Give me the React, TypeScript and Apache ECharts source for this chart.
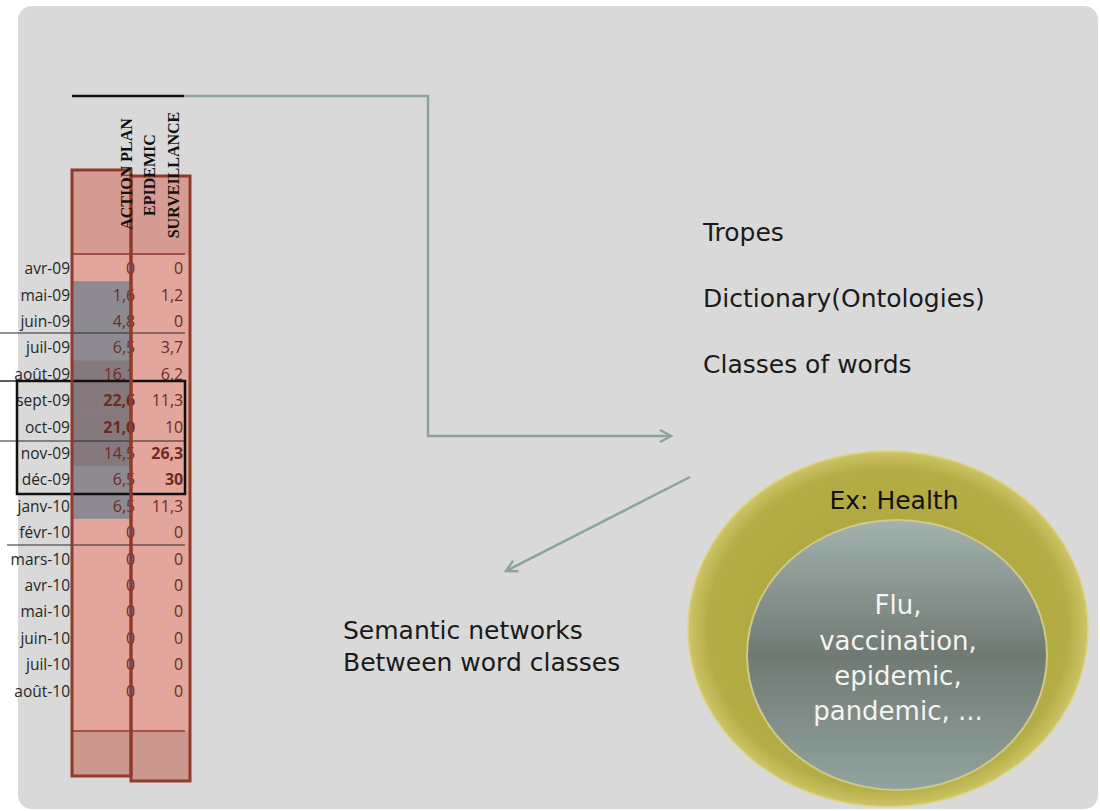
import React, { useEffect, useRef } from 'react';
import * as echarts from 'echarts';

const months = ['avr-09', 'mai-09', 'juin-09', 'juil-09', 'août-09', 'sept-09', 'oct-09', 'nov-09', 'déc-09', 'janv-10', 'févr-10', 'mars-10', 'avr-10', 'mai-10', 'juin-10', 'juil-10', 'août-10'];
const rowCategories = [...months, ''];
const columns = ['ACTION PLAN', 'EPIDEMIC\nSURVEILLANCE'];
const actionPlan = [0, 1.6, 4.8, 6.5, 16.1, 22.6, 21.0, 14.5, 6.5, 6.5, 0, 0, 0, 0, 0, 0, 0];
const epidemicSurveillance = [0, 1.2, 0, 3.7, 6.2, 11.3, 10, 26.3, 30, 11.3, 0, 0, 0, 0, 0, 0, 0];
const rightTopics = ['Tropes', 'Dictionary(Ontologies)', 'Classes of words'];
const networkText = ['Semantic networks', 'Between word classes'];
const circleTitle = 'Ex: Health';
const circleWords = ['Flu,', 'vaccination,', 'epidemic,', 'pandemic, ...'];

const fmtAction = (v: number) => (v === 0 ? '0' : v.toFixed(1).replace('.', ','));
const fmtSurv = (v: number) => String(v).replace('.', ',');

const RED = '#8f3a2b';
const CONNECT = '#8fa39e';

function chevron(tipX: number, tipY: number, fromX: number, fromY: number, len = 11, half = 6) {
  const dx = tipX - fromX;
  const dy = tipY - fromY;
  const L = Math.hypot(dx, dy);
  const ux = dx / L;
  const uy = dy / L;
  const bx = tipX - ux * len;
  const by = tipY - uy * len;
  return [
    [bx - uy * half, by + ux * half],
    [tipX, tipY],
    [bx + uy * half, by - ux * half],
  ];
}

export default function App() {
  const ref = useRef<HTMLDivElement>(null);
  useEffect(() => {
    if (!ref.current) return;
    const chart = echarts.init(ref.current, undefined, { renderer: 'svg' });

    const labelRich = {
      n: { fontFamily: 'Open Sans', fontSize: 16, color: '#6e2a22' },
      b: { fontFamily: 'Open Sans', fontSize: 16, color: '#6e2a22', fontWeight: 'bold' },
    };
    const mkLabel = (fmt: (v: number) => string) => (p: any) => {
      const v = p.value[2];
      return v >= 20 ? `{b|${fmt(v)}}` : `{n|${fmt(v)}}`;
    };

    const topicY = [232, 298, 364];
    const wordY = [605, 641, 676, 711];

    const graphics: any[] = [
      { type: 'rect', z: 0, shape: { x: 18, y: 6, width: 1080, height: 803, r: 14 }, style: { fill: '#d9d9d9' } },
      { type: 'rect', z: 1, shape: { x: 72, y: 170, width: 59, height: 85 }, style: { fill: '#d69c93' } },
      { type: 'rect', z: 1, shape: { x: 131, y: 176, width: 59, height: 79 }, style: { fill: '#d69c93' } },
      { type: 'rect', z: 1, shape: { x: 72, y: 255, width: 59, height: 476 }, style: { fill: '#e2a69d' } },
      { type: 'rect', z: 1, shape: { x: 131, y: 255, width: 59, height: 476 }, style: { fill: '#e2a69d' } },
      { type: 'rect', z: 1, shape: { x: 72, y: 731, width: 59, height: 45 }, style: { fill: '#cc978e' } },
      { type: 'rect', z: 1, shape: { x: 131, y: 731, width: 59, height: 50 }, style: { fill: '#cc978e' } },
      { type: 'line', z: 20, shape: { x1: 72, y1: 254, x2: 185, y2: 254 }, style: { stroke: RED, lineWidth: 1.5 } },
      { type: 'line', z: 20, shape: { x1: 72, y1: 731, x2: 185, y2: 731 }, style: { stroke: RED, lineWidth: 1.5 } },
      { type: 'line', z: 20, shape: { x1: 0, y1: 333, x2: 185, y2: 333 }, style: { stroke: '#2a2a2a', lineWidth: 1.2 } },
      { type: 'line', z: 20, shape: { x1: 0, y1: 441, x2: 185, y2: 441 }, style: { stroke: '#2a2a2a', lineWidth: 1.2 } },
      { type: 'line', z: 20, shape: { x1: 7, y1: 545, x2: 185, y2: 545 }, style: { stroke: '#2a2a2a', lineWidth: 1.2 } },
      { type: 'line', z: 20, shape: { x1: 0, y1: 381, x2: 17, y2: 381 }, style: { stroke: '#2a2a2a', lineWidth: 1.5 } },
      { type: 'rect', z: 25, shape: { x: 17, y: 381, width: 168, height: 113 }, style: { fill: 'none', stroke: '#111', lineWidth: 2.5 } },
      { type: 'rect', z: 30, shape: { x: 72, y: 170, width: 59, height: 606 }, style: { fill: 'none', stroke: RED, lineWidth: 3 } },
      { type: 'rect', z: 30, shape: { x: 131, y: 176, width: 59, height: 605 }, style: { fill: 'none', stroke: RED, lineWidth: 3 } },
      {
        type: 'text', z: 40, x: 126, y: 174, rotation: Math.PI / 2,
        style: { text: columns[0], fontFamily: 'Liberation Serif', fontWeight: 'bold', fontSize: 16, fill: '#111', align: 'center', verticalAlign: 'middle' },
      },
      {
        type: 'text', z: 40, x: 161, y: 175, rotation: Math.PI / 2,
        style: { text: columns[1], fontFamily: 'Liberation Serif', fontWeight: 'bold', fontSize: 16, lineHeight: 24, fill: '#111', align: 'center', verticalAlign: 'middle' },
      },
      { type: 'line', z: 40, shape: { x1: 72, y1: 96, x2: 184, y2: 96 }, style: { stroke: '#111', lineWidth: 2.5 } },
      { type: 'polyline', z: 40, shape: { points: [[184, 96], [428, 96], [428, 436], [670, 436]] }, style: { stroke: CONNECT, lineWidth: 2.5, fill: 'none' } },
      { type: 'polyline', z: 40, shape: { points: chevron(671, 436, 428, 436) }, style: { stroke: CONNECT, lineWidth: 2.5, fill: 'none' } },
      { type: 'line', z: 40, shape: { x1: 690, y1: 477, x2: 506, y2: 571 }, style: { stroke: CONNECT, lineWidth: 2.5 } },
      { type: 'polyline', z: 40, shape: { points: chevron(506, 571, 690, 477) }, style: { stroke: CONNECT, lineWidth: 2.5, fill: 'none' } },
      ...rightTopics.map((t, i) => ({
        type: 'text', z: 40, x: 703, y: topicY[i],
        style: { text: t, fontFamily: 'DejaVu Sans', fontSize: 25, fill: '#1a1a1a', align: 'left', verticalAlign: 'middle' },
      })),
      ...networkText.map((t, i) => ({
        type: 'text', z: 40, x: 343, y: 630 + i * 32,
        style: { text: t, fontFamily: 'DejaVu Sans', fontSize: 25, fill: '#1a1a1a', align: 'left', verticalAlign: 'middle' },
      })),
      {
        type: 'ellipse', z: 40, shape: { cx: 888, cy: 629, rx: 200, ry: 178 },
        style: {
          fill: new echarts.graphic.RadialGradient(0.5, 0.5, 0.5, [
            { offset: 0, color: '#a8a03a' },
            { offset: 0.9, color: '#b4ac44' },
            { offset: 1, color: '#cdc568' },
          ]),
          stroke: '#ddd68a', lineWidth: 1.5,
        },
      },
      {
        type: 'ellipse', z: 41, shape: { cx: 897, cy: 655, rx: 150, ry: 135 },
        style: {
          fill: new echarts.graphic.LinearGradient(0, 0, 0, 1, [
            { offset: 0, color: '#a3b2ad' },
            { offset: 0.5, color: '#6f7a74' },
            { offset: 1, color: '#93a39e' },
          ]),
          stroke: '#cfc98a', lineWidth: 2,
        },
      },
      {
        type: 'text', z: 42, x: 894, y: 500,
        style: { text: circleTitle, fontFamily: 'DejaVu Sans', fontSize: 25, fill: '#111', align: 'center', verticalAlign: 'middle' },
      },
      ...circleWords.map((t, i) => ({
        type: 'text', z: 42, x: 898, y: wordY[i],
        style: { text: t, fontFamily: 'DejaVu Sans', fontSize: 26, fill: '#f4f4f0', align: 'center', verticalAlign: 'middle' },
      })),
    ];

    chart.setOption({
      animation: false,
      backgroundColor: '#ffffff',
      grid: { left: 72, top: 255, width: 118, height: 475.2, containLabel: false },
      xAxis: {
        type: 'category', data: columns, position: 'top',
        axisLine: { show: false }, axisTick: { show: false }, axisLabel: { show: false }, splitLine: { show: false },
      },
      yAxis: {
        type: 'category', data: rowCategories, inverse: true,
        axisLine: { show: false }, axisTick: { show: false }, splitLine: { show: false },
        axisLabel: { margin: 2, fontFamily: 'Open Sans', fontSize: 15.5, color: '#262626' },
      },
      visualMap: [
        {
          type: 'piecewise', show: false, seriesIndex: 0, dimension: 2,
          pieces: [
            { value: 0, color: '#e2a69d' },
            { gt: 0, lt: 10, color: '#8d8a92' },
            { gte: 10, color: '#84797d' },
          ],
        },
        {
          type: 'piecewise', show: false, seriesIndex: 1, dimension: 2,
          pieces: [{ gte: 0, color: '#e2a69d' }],
        },
      ],
      series: [
        {
          type: 'heatmap', z: 2,
          data: months.map((_, i) => [0, i, actionPlan[i]]),
          label: { show: true, position: 'insideRight', distance: 0, offset: [4, 0], formatter: mkLabel(fmtAction), rich: labelRich },
          emphasis: { disabled: true },
        },
        {
          type: 'heatmap', z: 2,
          data: months.map((_, i) => [1, i, epidemicSurveillance[i]]),
          label: { show: true, position: 'insideRight', distance: 7, formatter: mkLabel(fmtSurv), rich: labelRich },
          emphasis: { disabled: true },
        },
      ],
      graphic: { elements: graphics },
    });
    return () => chart.dispose();
  }, []);
  return <div ref={ref} style={{ position: 'absolute', left: 0, top: 0, width: 1100, height: 811 }} />;
}
